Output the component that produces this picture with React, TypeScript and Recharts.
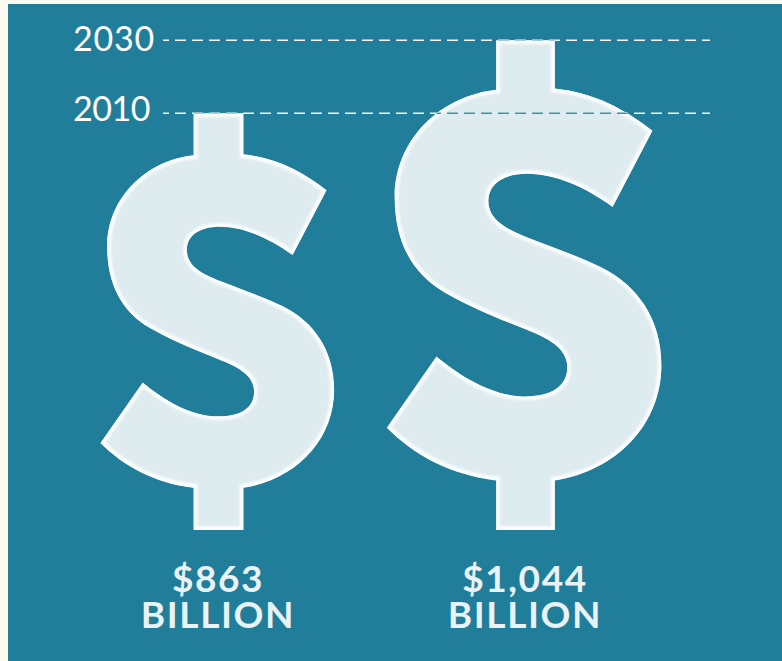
import { Bar, BarChart, ReferenceLine, XAxis, YAxis } from "recharts";

const categories = ["$863", "$1,044"];
const values = [863, 1044];
const years = ["2010", "2030"];
const unitLabel = "BILLION";
const axisFloor = -171;
const axisCeiling = 1094;

const data = categories.map((name, i) => ({
  name,
  span: [axisFloor, values[i]],
}));

const GLYPH =
  "M310,38 L460,38 L460,162 C560,172 640,215 710,270 L608,465 C540,415 460,380 390,380 C330,380 290,405 290,450 C290,495 330,520 390,543 C450,567 520,590 580,620 C670,665 733,750 733,870 C733,1020 620,1140 460,1165 L460,1292 L310,1292 L310,1165 C190,1150 100,1100 30,1030 L157,848 C220,900 300,950 385,950 C450,950 492,925 492,875 C492,825 440,800 385,778 C320,752 260,730 180,685 C100,640 50,560 50,440 C50,290 170,180 310,165 Z";

const DollarShape = (props: any) => {
  const { x, y, width, height, index } = props;
  const scale = height / 1254;
  const cx = x + width / 2;
  const transform = `translate(${cx - 385 * scale},${y - 38 * scale}) scale(${scale})`;
  const id = `dollar-clip-${index}`;
  return (
    <g clipPath={`url(#${id})`}>
      <clipPath id={id}>
        <path d={GLYPH} transform={transform} />
      </clipPath>
      <filter id={`${id}-soft`} x="-10%" y="-10%" width="120%" height="120%">
        <feGaussianBlur stdDeviation={0.9} />
      </filter>
      <path d={GLYPH} transform={transform} fill="#deebef" />
      <g filter={`url(#${id}-soft)`}>
        <path
          d={GLYPH}
          transform={transform}
          fill="none"
          stroke="#fafcfd"
          strokeWidth={8}
          vectorEffect="non-scaling-stroke"
        />
      </g>
    </g>
  );
};

const AmountTick = ({ x, y, payload }: any) => (
  <text
    fontFamily="Lato"
    fontWeight={700}
    fontSize={37}
    letterSpacing={1.6}
    fill="#e9f2f5"
    textAnchor="middle"
  >
    <tspan x={x} y={y + 54}>
      {payload.value}
    </tspan>
    <tspan x={x} y={y + 90}>
      {unitLabel}
    </tspan>
  </text>
);

const YearTick = ({ y, payload, index }: any) => (
  <text
    x={73}
    y={y + (index === 0 ? 8 : 11)}
    fontFamily="Lato"
    fontWeight={400}
    fontSize={34}
    letterSpacing={index === 0 ? -0.5 : 0.8}
    fill="#ffffff"
  >
    {years[values.indexOf(payload.value)]}
  </text>
);

const dash = { strokeDasharray: "11 6", strokeDashoffset: 5, strokeWidth: 1.5 };

export default function App() {
  return (
    <div
      style={{
        position: "absolute",
        left: 0,
        top: 0,
        width: 782,
        height: 661,
        background: "#fdfbf0",
        overflow: "hidden",
      }}
    >
      <div
        style={{
          position: "absolute",
          left: 8,
          top: 4,
          width: 774,
          height: 657,
          background: "#217e9b",
        }}
      />
      <div style={{ position: "absolute", left: 0, top: 0 }}>
        <BarChart
          width={782}
          height={661}
          data={data}
          margin={{ top: 20, right: 72, left: 0, bottom: 0 }}
        >
          <XAxis
            dataKey="name"
            scale="point"
            padding={{ left: 55, right: 185 }}
            axisLine={false}
            tickLine={false}
            height={131}
            interval={0}
            tick={<AmountTick />}
          />
          <YAxis
            type="number"
            width={163}
            domain={[axisFloor, axisCeiling]}
            ticks={values}
            axisLine={false}
            tickLine={false}
            tick={<YearTick />}
            interval={0}
          />
          {values.map((v) => (
            <ReferenceLine key={v} y={v} stroke="#f2f8fa" {...dash} />
          ))}
          <Bar
            dataKey="span"
            barSize={130}
            shape={<DollarShape />}
            isAnimationActive={false}
          />
          <ReferenceLine y={values[0]} stroke="#3f8fa9" clipPath="url(#dollar-clip-1)" {...dash} />
          <ReferenceLine y={values[0]} stroke="#8fbccb" clipPath="url(#dollar-clip-0)" {...dash} />
          <ReferenceLine y={values[1]} stroke="#8fbccb" clipPath="url(#dollar-clip-1)" {...dash} />
        </BarChart>
      </div>
    </div>
  );
}
